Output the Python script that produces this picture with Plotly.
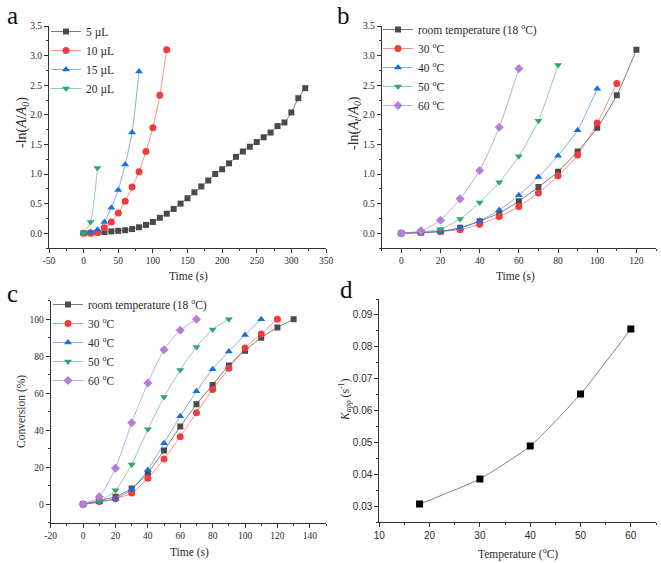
import plotly.graph_objects as go

# ---------------- data ----------------
# panel a: volume series
t_5 = list(range(0, 330, 10))
y_5 = [0.0, 0.005, 0.01, 0.02, 0.03, 0.04, 0.05, 0.07, 0.10, 0.14, 0.19, 0.26, 0.33,
       0.41, 0.50, 0.59, 0.69, 0.79, 0.89, 1.00, 1.08, 1.18, 1.29, 1.38, 1.46, 1.54,
       1.62, 1.70, 1.81, 1.87, 2.04, 2.28, 2.45]
t_10 = list(range(0, 130, 10))
y_10 = [0.0, 0.0, 0.01, 0.09, 0.19, 0.34, 0.54, 0.78, 1.04, 1.38, 1.78, 2.33, 3.10]
t_15 = list(range(0, 90, 10))
y_15 = [0.0, 0.02, 0.06, 0.19, 0.43, 0.73, 1.16, 1.70, 2.73]
t_20 = [0, 10, 20]
y_20 = [0.0, 0.19, 1.10]
vol_names = ["5 µL", "10 µL", "15 µL", "20 µL"]

# panel b: -ln(At/A0) vs time at temperatures
b_t18 = list(range(0, 130, 10))
b_y18 = [0.0, 0.01, 0.03, 0.09, 0.20, 0.34, 0.54, 0.78, 1.04, 1.38, 1.78, 2.33, 3.10]
b_t30 = list(range(0, 120, 10))
b_y30 = [0.0, 0.01, 0.03, 0.06, 0.15, 0.28, 0.45, 0.68, 0.97, 1.32, 1.86, 2.53]
b_t40 = list(range(0, 110, 10))
b_y40 = [0.0, 0.01, 0.03, 0.09, 0.21, 0.39, 0.64, 0.95, 1.31, 1.74, 2.44]
b_t50 = list(range(0, 90, 10))
b_y50 = [0.0, 0.02, 0.07, 0.24, 0.52, 0.86, 1.30, 1.90, 2.84]
b_t60 = list(range(0, 70, 10))
b_y60 = [0.0, 0.04, 0.22, 0.58, 1.06, 1.79, 2.78]

# panel c: conversion (%)
c_t18 = list(range(0, 140, 10))
c_y18 = [0, 2, 4, 8.5, 17, 29, 42, 54, 64.5, 75, 83, 90, 95.5, 100]
c_t30 = list(range(0, 130, 10))
c_y30 = [0, 1.5, 3, 6, 14, 24.5, 36.5, 49.5, 62, 73.5, 84.5, 92, 100]
c_t40 = list(range(0, 120, 10))
c_y40 = [0, 1, 3, 8, 18.5, 33, 47.5, 61, 73, 82.5, 91.5, 100]
c_t50 = list(range(0, 100, 10))
c_y50 = [0, 1.5, 7.5, 21.5, 40.5, 58, 72.5, 85, 94.5, 100]
c_t60 = list(range(0, 80, 10))
c_y60 = [0, 4, 19.5, 44, 65.5, 83.5, 94, 100]
temp_names = ["room temperature (18 <sup>o</sup>C)", "30 <sup>o</sup>C", "40 <sup>o</sup>C",
              "50 <sup>o</sup>C", "60 <sup>o</sup>C"]

# panel d: Kapp vs temperature
d_temp = [18, 30, 40, 50, 60]
d_k = [0.0307, 0.0386, 0.0489, 0.0652, 0.0856]

# tick labels
a_xticks = [-50, 0, 50, 100, 150, 200, 250, 300, 350]
a_xtext = ["-50", "0", "50", "100", "150", "200", "250", "300", "350"]
c_xticks = [-20, 0, 20, 40, 60, 80, 100, 120, 140]
c_xtext = ["-20", "0", "20", "40", "60", "80", "100", "120", "140"]

# ---------------- style ----------------
W, H = 661, 563
SERIF = "Liberation Serif"
SANS = "Liberation Sans"
TXT = "#2a2a2a"
marker_cols = ["#4a4a4a", "#f03c3c", "#1a6fdf", "#2fa865", "#b47fdc"]
line_cols = ["rgba(80,80,80,0.75)", "rgba(240,70,70,0.6)", "rgba(26,111,223,0.55)",
             "rgba(47,168,101,0.55)", "rgba(177,119,222,0.65)"]
symbols = ["square", "circle", "triangle-up", "triangle-down", "diamond"]
msizes = [6, 7, 7, 7, 7]

fig = go.Figure()


def add(xs, ys, i, name, xa, ya, legend, showlegend=True):
    fig.add_trace(go.Scatter(
        x=xs, y=ys, mode="lines+markers", name=name,
        line=dict(color=line_cols[i], width=1, shape="spline", smoothing=0.6),
        marker=dict(symbol=symbols[i], size=msizes[i], color=marker_cols[i], line=dict(width=0)),
        xaxis=xa, yaxis=ya, legend=legend, showlegend=showlegend))


for i, (xs, ys) in enumerate([(t_5, y_5), (t_10, y_10), (t_15, y_15), (t_20, y_20)]):
    add(xs, ys, i, vol_names[i], "x", "y", "legend")
for i, (xs, ys) in enumerate([(b_t18, b_y18), (b_t30, b_y30), (b_t40, b_y40), (b_t50, b_y50), (b_t60, b_y60)]):
    add(xs, ys, i, temp_names[i], "x2", "y2", "legend2")
for i, (xs, ys) in enumerate([(c_t18, c_y18), (c_t30, c_y30), (c_t40, c_y40), (c_t50, c_y50), (c_t60, c_y60)]):
    add(xs, ys, i, temp_names[i], "x3", "y3", "legend3")

fig.add_trace(go.Scatter(
    x=d_temp, y=d_k, mode="lines+markers", showlegend=False,
    line=dict(color="#808080", width=1, shape="spline", smoothing=0.5),
    marker=dict(symbol="square", size=7, color="#000000"),
    xaxis="x4", yaxis="y4"))


def px_x(p):
    return p / W


def px_y(p):
    return 1 - p / H


def axis(domain, rng, dtick, minor, anchor, font=SERIF, fmt=None, tickvals=None, ticktext=None, fsize=9.5):
    d = dict(domain=domain, range=rng, anchor=anchor, showline=True, linecolor="#333333", linewidth=1,
             ticks="outside", ticklen=4, tickwidth=1, tickcolor="#333333",
             minor=dict(ticks="outside", ticklen=2, tickwidth=1, tickcolor="#333333", dtick=minor),
             showgrid=False, zeroline=False, automargin=False,
             tickfont=dict(family=font, size=fsize, color=TXT))
    if tickvals is not None:
        d.update(tickmode="array", tickvals=tickvals, ticktext=ticktext)
    else:
        d.update(dtick=dtick, tick0=0)
    if fmt:
        d["tickformat"] = fmt
    return d


# pixel layouts
ax_a = ([px_x(49), px_x(326)], [px_y(248), px_y(26)])
ax_b = ([px_x(381.7), px_x(656)], [px_y(248), px_y(26)])
ax_c = ([px_x(50.7), px_x(326)], [px_y(522.7), px_y(300.7)])
ax_d = ([px_x(379.3), px_x(656)], [px_y(522.3), px_y(299)])

fig.update_layout(
    width=W, height=H, margin=dict(l=0, r=0, t=0, b=0),
    paper_bgcolor="white", plot_bgcolor="white",
    xaxis=axis(ax_a[0], [-50, 350], 50, 25, "y", tickvals=a_xticks, ticktext=a_xtext),
    yaxis=axis(ax_a[1], [-0.25, 3.5], 0.5, 0.25, "x", fmt=".1f"),
    xaxis2=axis(ax_b[0], [-10, 130], 20, 10, "y2"),
    yaxis2=axis(ax_b[1], [-0.25, 3.5], 0.5, 0.25, "x2", fmt=".1f"),
    xaxis3=axis(ax_c[0], [-20, 150], 20, 10, "y3", tickvals=c_xticks, ticktext=c_xtext),
    yaxis3=axis(ax_c[1], [-10, 110], 20, 10, "x3"),
    xaxis4=axis(ax_d[0], [10, 65], 10, 5, "y4", font=SANS, fsize=10),
    yaxis4=axis(ax_d[1], [0.025, 0.095], 0.01, 0.005, "x4", font=SANS, fmt=".2f", fsize=10),
)

leg_common = dict(xanchor="left", yanchor="top", bgcolor="rgba(0,0,0,0)",
                  font=dict(family=SERIF, size=11.5, color=TXT), tracegroupgap=0)
fig.update_layout(
    legend=dict(x=px_x(46), y=px_y(17), **leg_common),
    legend2=dict(x=px_x(378), y=px_y(15), **leg_common),
    legend3=dict(x=px_x(48), y=px_y(290), **leg_common),
)

annots = []
# panel letters
for txt, x, y in [("a", 12, 15), ("b", 343, 15), ("c", 12, 293), ("d", 346, 289)]:
    annots.append(dict(text=txt, x=px_x(x), y=px_y(y), xref="paper", yref="paper", showarrow=False,
                       font=dict(family=SERIF, size=25, color="#111111"), xanchor="center", yanchor="middle"))
# axis titles
title_font = dict(family=SERIF, size=11.5, color=TXT)
for txt, x, y in [("Time (s)", 188, 276), ("Time (s)", 515, 276), ("Time (s)", 190, 552),
                  ("Temperature (<sup>o</sup>C)", 518, 553)]:
    annots.append(dict(text=txt, x=px_x(x), y=px_y(y), xref="paper", yref="paper", showarrow=False,
                       font=title_font, xanchor="center", yanchor="middle"))
for txt, x, y, fs in [("-ln(<i>A</i>/<i>A</i><sub><i>0</i></sub>)", 23, 123, 14),
                      ("-ln(<i>A</i><sub><i>t</i></sub>/<i>A</i><sub><i>0</i></sub>)", 355, 123, 14),
                      ("Conversion (%)", 21, 412, 11.5),
                      ("<i>K</i><sub><i>app</i></sub> (s<sup>-1</sup>)", 345, 400, 11.5)]:
    annots.append(dict(text=txt, x=px_x(x), y=px_y(y), xref="paper", yref="paper", showarrow=False,
                       font=dict(family=SERIF, size=fs, color=TXT), textangle=-90,
                       xanchor="center", yanchor="middle"))
fig.update_layout(annotations=annots)

fig.write_html("out.html")
